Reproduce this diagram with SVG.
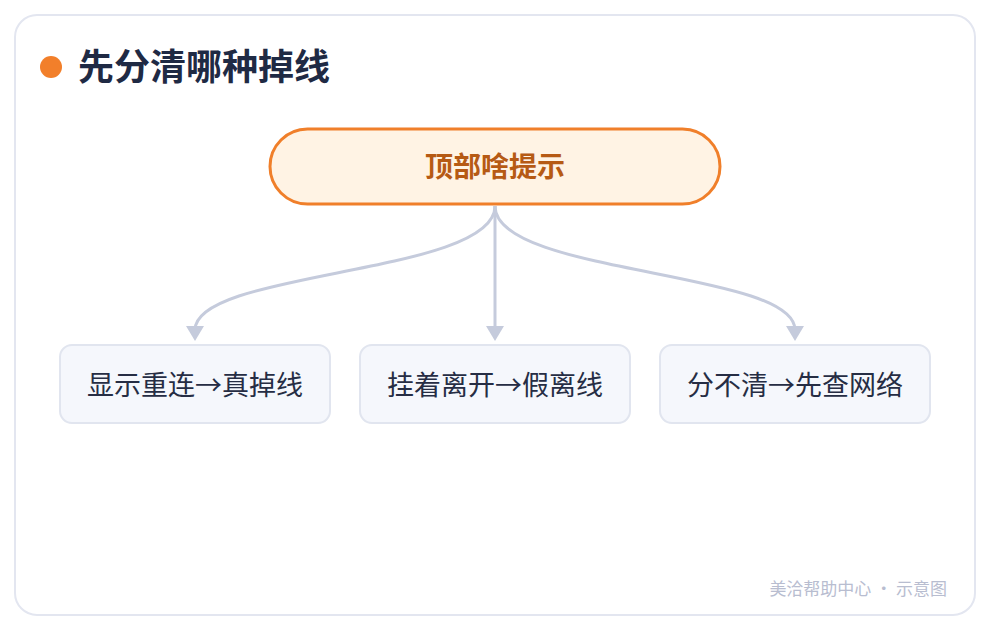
<svg xmlns="http://www.w3.org/2000/svg" width="990" height="630" viewBox="0 0 990 630">
<defs>
<style>
.cjk{font-family:"Noto Sans CJK SC","Noto Sans",sans-serif}
.leaf rect{fill:#f5f7fc;stroke:#e1e5ef;stroke-width:2}
.leaf text{font-size:27px;fill:#262d44;text-anchor:middle}
.conn{fill:none;stroke:#c5cbdc;stroke-width:3}
.head{fill:#c5cbdc}
</style>
</defs>
<rect x="0" y="0" width="990" height="630" fill="#ffffff"/>
<rect x="15" y="15" width="960" height="600" rx="22" fill="#ffffff" stroke="#e3e6f0" stroke-width="2"/>
<g id="title">
<circle cx="51" cy="67" r="11" fill="#f27f2a"/>
<text class="cjk" x="78" y="80" font-size="36" font-weight="700" fill="#1f2a44">先分清哪种掉线</text>
</g>
<g id="connectors">
<path class="conn" d="M495,206 C495,275 195,270 195,330"/>
<path class="conn" d="M495,206 L495,330"/>
<path class="conn" d="M495,206 C495,275 795,270 795,330"/>
<path class="head" d="M186,326 L204,326 L195,341 Z"/>
<path class="head" d="M486,326 L504,326 L495,341 Z"/>
<path class="head" d="M786,326 L804,326 L795,341 Z"/>
</g>
<g id="top">
<rect x="270" y="129" width="450" height="75" rx="37.5" fill="#fff3e4" stroke="#f07f2a" stroke-width="3"/>
<text class="cjk" x="495" y="177" font-size="28" font-weight="700" fill="#b65a14" text-anchor="middle">顶部啥提示</text>
</g>
<g id="leaf1" class="leaf">
<rect x="60" y="345" width="270" height="78" rx="12"/>
<text class="cjk" x="195" y="395">显示重连→真掉线</text>
</g>
<g id="leaf2" class="leaf">
<rect x="360" y="345" width="270" height="78" rx="12"/>
<text class="cjk" x="495" y="395">挂着离开→假离线</text>
</g>
<g id="leaf3" class="leaf">
<rect x="660" y="345" width="270" height="78" rx="12"/>
<text class="cjk" x="795" y="395">分不清→先查网络</text>
</g>
<text class="cjk" x="947" y="595" font-size="17" fill="#b8bdd0" text-anchor="end">美洽帮助中心 · 示意图</text>
</svg>
